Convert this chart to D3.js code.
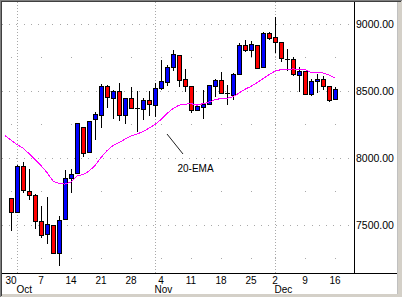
<!DOCTYPE html>
<html>
<head>
<meta charset="utf-8">
<script src="https://cdn.jsdelivr.net/npm/d3@7"></script>
<style>
html,body{margin:0;padding:0;background:#d4d0c8;}
svg{display:block;}
text{font-family:"Liberation Sans",Arial,sans-serif;}
</style>
</head>
<body>
<svg id="chart" width="402" height="297"></svg>
<script>
// ---- data ----
const dates = ["2002-09-30","2002-10-01","2002-10-02","2002-10-03","2002-10-04","2002-10-07","2002-10-08","2002-10-09","2002-10-10","2002-10-11",
"2002-10-14","2002-10-15","2002-10-16","2002-10-17","2002-10-18","2002-10-21","2002-10-22","2002-10-23","2002-10-24","2002-10-25",
"2002-10-28","2002-10-29","2002-10-30","2002-10-31","2002-11-01","2002-11-04","2002-11-05","2002-11-06","2002-11-07","2002-11-08",
"2002-11-11","2002-11-12","2002-11-13","2002-11-14","2002-11-15","2002-11-18","2002-11-19","2002-11-20","2002-11-21","2002-11-22",
"2002-11-25","2002-11-26","2002-11-27","2002-11-29","2002-12-02","2002-12-03","2002-12-04","2002-12-05","2002-12-06","2002-12-09",
"2002-12-10","2002-12-11","2002-12-12","2002-12-13","2002-12-16"];
const open  = [7701,7597,7942,7756,7724,7532,7433,7502,7291,7545, 7851,7888,8231,8045,8288,8318,8537,8450,8500,8321, 8448,8370,8363,8433,8395,8522,8564,8679,8766,8590, 8537,8360,8381,8403,8537,8582,8483,8467,8627,8846, 8806,8846,8679,8933,8903,8866,8740,8739,8619,8649, 8478,8572,8590,8534,8440];
const high  = [7701,7945,7972,7920,7730,7644,7704,7502,7569,7907, 7920,8261,8231,8278,8340,8554,8545,8505,8562,8448, 8527,8502,8448,8497,8560,8734,8696,8803,8766,8664, 8537,8392,8510,8545,8592,8644,8547,8635,8858,8878, 8870,8846,8940,8940,9052,8866,8813,8754,8679,8649, 8590,8627,8609,8534,8530];
const low   = [7460,7597,7745,7689,7475,7410,7366,7286,7202,7545, 7743,7888,8012,8045,8144,8228,8381,8299,8281,8261, 8373,8199,8293,8318,8310,8515,8546,8660,8540,8497, 8345,8355,8299,8403,8460,8482,8405,8440,8627,8800, 8758,8670,8679,8890,8788,8721,8654,8620,8500,8475, 8470,8493,8515,8425,8440];
const close = [7597,7942,7761,7724,7532,7425,7507,7288,7537,7848, 7883,8261,8037,8278,8328,8537,8455,8500,8321,8448, 8373,8368,8435,8400,8522,8575,8679,8776,8584,8534, 8358,8390,8403,8545,8582,8482,8482,8627,8846,8806, 8853,8674,8935,8896,8866,8746,8739,8629,8652,8478, 8577,8590,8534,8430,8515];
// 20-day EMA, first value belongs to the session before 30 Sep (27 Sep)
const emaDates = ["2002-09-27"].concat(dates);
const ema20 = [8166,8133,8099,8073,8032,7987,7943,7890,7827,7808,7804, 7819,7864,7875,7901,7943,8002,8054,8092,8114,8140, 8163,8178,8196,8222,8249,8286,8331,8368,8394,8401, 8405,8394,8405,8416,8435,8443,8446,8457,8484,8513, 8534,8562,8592,8622,8648,8659,8663,8664,8663,8659, 8639,8637,8634,8618,8596];
const majorTicks = [7500,8000,8500,9000];
const minorTicks = [7250,7750,8250,8750];
const annotation = "20-EMA";

// ---- layout ----
const W = 402, H = 297;
const plotL = 2, plotR = 354, plotT = 2, plotB = 273;
const svg = d3.select("#chart");
const parse = d3.timeParse("%Y-%m-%d");
const fmtDay = d3.timeFormat("%-d");
const fmtMon = d3.timeFormat("%b");

// index-based x scale (trading days), -1 = 27 Sep
const x = d3.scaleLinear().domain([0, dates.length - 1]).range([11, 335]);
const y = d3.scaleLinear().domain([7500, 9000]).range([224.8, 24]);
const px = v => Math.round(x(v));
const py = v => Math.round(y(v));

// frame
svg.append("rect").attr("width", W).attr("height", H).attr("fill", "#d4d0c8");
svg.append("rect").attr("x", 2).attr("y", 2).attr("width", 395).attr("height", 292).attr("fill", "#fff");
svg.append("rect").attr("x", 0).attr("y", 0).attr("width", W).attr("height", 1).attr("fill", "#808080");
svg.append("rect").attr("x", 0).attr("y", 0).attr("width", 1).attr("height", H).attr("fill", "#808080");
svg.append("rect").attr("x", 1).attr("y", 1).attr("width", W - 2).attr("height", 1).attr("fill", "#404040");
svg.append("rect").attr("x", 1).attr("y", 1).attr("width", 1).attr("height", H - 2).attr("fill", "#404040");
svg.append("rect").attr("x", 397).attr("y", 2).attr("width", 1).attr("height", 292).attr("fill", "#c0c0c0");

const g = svg.append("g").attr("shape-rendering", "crispEdges");

// major horizontal grid (dotted)
g.selectAll("line.major").data(majorTicks).join("line")
  .attr("x1", plotL).attr("x2", plotR)
  .attr("y1", d => py(d) + 0.5).attr("y2", d => py(d) + 0.5)
  .attr("stroke", "#a8a8a8").attr("stroke-width", 1).attr("stroke-dasharray", "1,6.2");

// mondays
const parsed = dates.map(parse);
const mondayIdx = parsed.map((d, i) => d.getDay() === 1 ? i : -1).filter(i => i >= 0);
const monthStartIdx = parsed.map((d, i) => (i > 0 && d.getMonth() !== parsed[i - 1].getMonth()) ? i : -1).filter(i => i >= 0);

// minor grid: dots at monday positions
const minorDots = [];
minorTicks.forEach(t => mondayIdx.forEach(i => minorDots.push([i, t])));
g.selectAll("rect.minor").data(minorDots).join("rect")
  .attr("x", d => px(d[0])).attr("y", d => py(d[1]))
  .attr("width", 1).attr("height", 1).attr("fill", "#a8a8a8");

// month vertical grid lines
g.selectAll("line.month").data(monthStartIdx).join("line")
  .attr("x1", d => px(d) + 0.5).attr("x2", d => px(d) + 0.5)
  .attr("y1", plotT).attr("y2", plotB)
  .attr("stroke", "#a8a8a8").attr("stroke-dasharray", "1,2");

// EMA line
const emaLine = d3.line().x((d, i) => x(i - 1)).y(d => y(d));
svg.append("path").datum(ema20).attr("d", emaLine)
  .attr("fill", "none").attr("stroke", "#ff00ff").attr("stroke-width", 1)
  .attr("shape-rendering", "crispEdges");

// candles
const idx = d3.range(dates.length);
const cg = g.append("g");
cg.selectAll("line.wick").data(idx).join("line")
  .attr("x1", i => px(i) + 0.5).attr("x2", i => px(i) + 0.5)
  .attr("y1", i => py(high[i])).attr("y2", i => py(low[i]) + 1)
  .attr("stroke", "#000");
idx.forEach(i => {
  const top = py(Math.max(open[i], close[i]));
  const bot = py(Math.min(open[i], close[i]));
  const cx = px(i);
  if (bot - top < 2) {
    cg.append("line").attr("x1", cx - 2).attr("x2", cx + 3)
      .attr("y1", top + 0.5).attr("y2", top + 0.5).attr("stroke", "#000");
  } else {
    cg.append("rect").attr("x", cx - 2 + 0.5).attr("y", top + 0.5)
      .attr("width", 4).attr("height", bot - top)
      .attr("fill", close[i] >= open[i] ? "#0000ff" : "#ff0000")
      .attr("stroke", "#000").attr("stroke-width", 1);
  }
});

// axes lines
g.append("line").attr("x1", plotR + 0.5).attr("x2", plotR + 0.5).attr("y1", plotT).attr("y2", plotB + 1).attr("stroke", "#000");
g.append("line").attr("x1", plotL).attr("x2", 397).attr("y1", plotB + 0.5).attr("y2", plotB + 0.5).attr("stroke", "#000");

// y labels
svg.selectAll("text.ylab").data(majorTicks).join("text")
  .attr("x", 356).attr("y", d => py(d) + 4.2)
  .attr("font-size", "10.5px").attr("fill", "#000")
  .text(d => d3.format(".2f")(d));

// x labels (mondays)
svg.selectAll("text.xlab").data(mondayIdx).join("text")
  .attr("x", i => px(i)).attr("y", 284.3)
  .attr("text-anchor", "middle").attr("font-size", "10px").attr("fill", "#000")
  .text(i => fmtDay(parsed[i]));

// month labels
svg.selectAll("text.mlab").data(monthStartIdx).join("text")
  .attr("x", i => px(i) - 0.5).attr("y", 293)
  .attr("font-size", "10px").attr("fill", "#000")
  .text(i => fmtMon(parsed[i]));

// annotation
svg.append("line").attr("x1", 167).attr("y1", 134).attr("x2", 183).attr("y2", 154)
  .attr("stroke", "#202020").attr("stroke-width", 1);
svg.append("text").attr("x", 177.5).attr("y", 172)
  .attr("font-family", "DejaVu Sans Mono, monospace").attr("font-size", "10px").attr("fill", "#000")
  .text(annotation);
</script>
</body>
</html>
